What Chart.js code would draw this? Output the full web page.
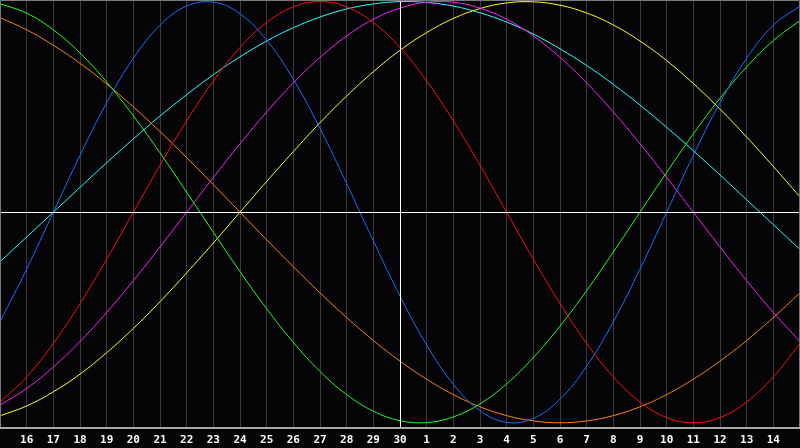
<!DOCTYPE html>
<html><head><meta charset="utf-8">
<script src="https://cdn.jsdelivr.net/npm/chart.js@4.4.0/dist/chart.umd.min.js"></script>
<style>html,body{margin:0;padding:0;background:#050507;}canvas{display:block;}</style>
</head><body>
<canvas id="c" width="800" height="448"></canvas>
<script>
const days = ['15','16','17','18','19','20','21','22','23','24','25','26','27','28','29','30',
              '1','2','3','4','5','6','7','8','9','10','11','12','13','14','15'];
const physical = [-0.520,-0.270,0,0.270,0.520,0.731,0.888,0.979,0.998,0.942,0.817,0.631,0.398,0.136,-0.136,-0.398,-0.631,-0.817,-0.942,-0.998,-0.979,-0.888,-0.731,-0.520,-0.270,0,0.270,0.520,0.731,0.888,0.979];
const emotional = [-0.901,-0.782,-0.623,-0.434,-0.223,0,0.223,0.434,0.623,0.782,0.901,0.975,1,0.975,0.901,0.782,0.623,0.434,0.223,0,-0.223,-0.434,-0.623,-0.782,-0.901,-0.975,-1,-0.975,-0.901,-0.782,-0.623];
const intellectual = [0.990,0.945,0.866,0.756,0.618,0.458,0.282,0.095,-0.095,-0.282,-0.458,-0.618,-0.756,-0.866,-0.945,-0.990,-0.999,-0.972,-0.910,-0.815,-0.690,-0.541,-0.372,-0.189,0,0.189,0.372,0.541,0.690,0.815,0.910];
const intuitive = [-0.916,-0.837,-0.735,-0.614,-0.476,-0.325,-0.165,0,0.165,0.325,0.476,0.614,0.735,0.837,0.916,0.969,0.997,0.997,0.969,0.916,0.837,0.735,0.614,0.476,0.325,0.165,0,-0.165,-0.325,-0.476,-0.614];
const aesthetic = [-0.967,-0.920,-0.853,-0.769,-0.667,-0.552,-0.425,-0.288,-0.146,0,0.146,0.288,0.425,0.552,0.667,0.769,0.853,0.920,0.967,0.994,0.999,0.983,0.946,0.889,0.813,0.720,0.611,0.489,0.357,0.217,0.073];
const awareness = [0.924,0.866,0.793,0.707,0.609,0.5,0.383,0.259,0.131,0,-0.131,-0.259,-0.383,-0.5,-0.609,-0.707,-0.793,-0.866,-0.924,-0.966,-0.991,-1,-0.991,-0.966,-0.924,-0.866,-0.793,-0.707,-0.609,-0.5,-0.383];
const spiritual = [-0.235,-0.118,0,0.118,0.235,0.348,0.457,0.558,0.653,0.738,0.813,0.876,0.927,0.965,0.989,1.000,0.996,0.979,0.947,0.903,0.846,0.776,0.697,0.607,0.509,0.403,0.292,0.177,0.059,-0.059,-0.177];

const seriesList = [
  {label:'Physical', data:physical, color:'#1470ff'},
  {label:'Emotional', data:emotional, color:'#ff1010'},
  {label:'Intellectual', data:intellectual, color:'#20ff20'},
  {label:'Intuitive', data:intuitive, color:'#ff20ff'},
  {label:'Aesthetic', data:aesthetic, color:'#ffff20'},
  {label:'Awareness', data:awareness, color:'#ff8010'},
  {label:'Spiritual', data:spiritual, color:'#20ffff'}
];
const todayIndex = 15;

const frame = {
  id:'frame',
  beforeDraw(chart){
    const c = chart.ctx; c.save(); c.fillStyle='#050507'; c.fillRect(0,0,chart.width,chart.height); c.restore();
  },
  afterDatasetsDraw(chart){
    const {ctx, chartArea:a, scales:{x,y}} = chart;
    ctx.save();
    ctx.lineWidth = 1;
    ctx.strokeStyle = '#ffffff';
    const zy = Math.round(y.getPixelForValue(0)) + 0.5;
    ctx.beginPath(); ctx.moveTo(a.left, zy); ctx.lineTo(a.right, zy); ctx.stroke();
    const mx = Math.round(x.getPixelForValue(todayIndex)) + 0.5;
    ctx.beginPath(); ctx.moveTo(mx, 0); ctx.lineTo(mx, a.bottom); ctx.stroke();
    ctx.strokeStyle = '#7a7a7a';
    ctx.beginPath();
    ctx.moveTo(0.5, a.bottom); ctx.lineTo(0.5, 0.5); ctx.lineTo(799.5, 0.5); ctx.lineTo(799.5, a.bottom);
    ctx.stroke();
    ctx.strokeStyle = '#a8a8a8'; ctx.lineWidth = 2;
    ctx.beginPath(); ctx.moveTo(0, a.bottom + 1); ctx.lineTo(800, a.bottom + 1); ctx.stroke();
    ctx.restore();
  }
};

new Chart(document.getElementById('c'), {
  type:'line',
  data:{
    labels: days,
    datasets: seriesList.map(s => ({
      label:s.label, data:s.data, borderColor:s.color, backgroundColor:s.color,
      borderWidth:1, pointRadius:0, pointHoverRadius:0, tension:0.4, fill:false
    }))
  },
  options:{
    responsive:false, animation:false,
    layout:{autoPadding:false, padding:{top:1, left:0, right:0, bottom:0}},
    plugins:{legend:{display:false}, tooltip:{enabled:false}},
    scales:{
      x:{
        type:'category', offset:false,
        afterFit(s){ s.height = 21; s.paddingLeft = 0; s.paddingRight = 0; },
        border:{display:false},
        grid:{drawTicks:false, lineWidth:1,
          color:(ctx)=> (ctx.index===0 || ctx.index===days.length-1 || ctx.index===todayIndex) ? 'rgba(0,0,0,0)' : '#3a3a3a'},
        ticks:{autoSkip:false, maxRotation:0, padding:7, color:'#ffffff',
          font:{family:'"DejaVu Sans Mono", monospace', size:11, weight:'bold'},
          callback:(v,i)=> (i===0 || i===days.length-1) ? '' : days[i]}
      },
      y:{
        min:-1.02, max:1.003,
        afterFit(s){ s.width = 0; s.paddingTop = 0; s.paddingBottom = 0; },
        border:{display:false},
        grid:{display:false},
        ticks:{display:false}
      }
    }
  },
  plugins:[frame]
});
</script>
</body></html>
